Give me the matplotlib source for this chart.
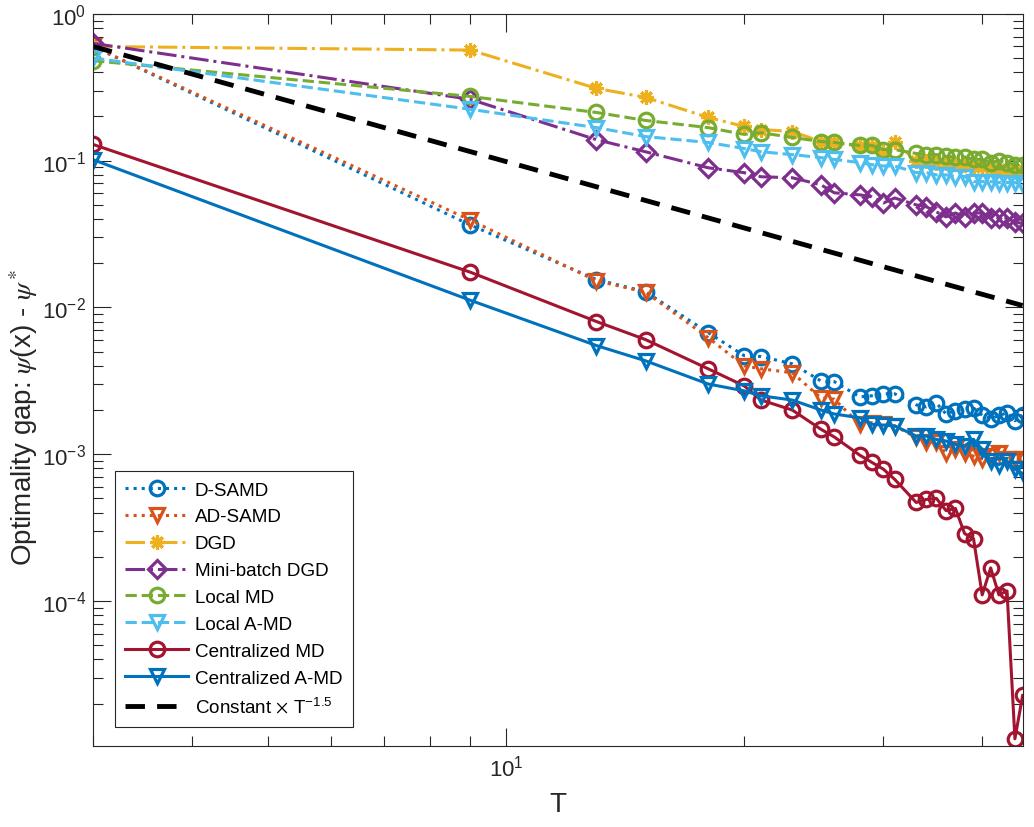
import matplotlib
matplotlib.use("Agg")
import matplotlib.pyplot as plt
from matplotlib.ticker import LogLocator, NullFormatter

plt.rcParams['font.family'] = ['Liberation Sans', 'DejaVu Sans']
plt.rcParams['mathtext.fontset'] = 'stix'

T = [3, 9, 13, 15, 18, 20, 21, 23, 25, 26, 28, 29, 30, 31, 33, 34, 35, 36,
     37, 38, 39, 40, 41, 42, 43, 44, 45]

d_samd = [0.60, 0.0365, 0.0155, 0.0128, 0.00674, 0.00469, 0.00463, 0.00413,
          0.00316, 0.00312, 0.00246, 0.0025, 0.00258, 0.00258, 0.00217, 0.0021,
          0.00223, 0.00188, 0.00198, 0.00203, 0.00207, 0.00184, 0.00174,
          0.00184, 0.00191, 0.00169, 0.00184]
ad_samd = [0.60, 0.0394, 0.0152, 0.0127, 0.00623, 0.0040, 0.00382, 0.00359,
           0.00242, 0.00237, 0.0016, 0.00164, 0.0016, 0.00156, 0.0013, 0.00121,
           0.00121, 0.00102, 0.00109, 0.00102, 0.00097, 0.00093, 0.00097,
           0.00102, 0.00093, 0.00093, 0.00093]
dgd = [0.60, 0.567, 0.311, 0.27, 0.197, 0.171, 0.163, 0.158, 0.135, 0.133,
       0.125, 0.125, 0.115, 0.133, 0.100, 0.099, 0.097, 0.096, 0.095, 0.093,
       0.092, 0.090, 0.089, 0.088, 0.087, 0.086, 0.085]
mb_dgd = [0.63, 0.262, 0.139, 0.115, 0.0895, 0.0828, 0.0777, 0.0765, 0.0685,
          0.0604, 0.0585, 0.0567, 0.0515, 0.0557, 0.050, 0.0485, 0.0448, 0.0414,
          0.044, 0.0414, 0.044, 0.044, 0.0408, 0.0408, 0.0408, 0.038, 0.0375]
local_md = [0.48, 0.274, 0.213, 0.188, 0.168, 0.151, 0.155, 0.144, 0.135, 0.133,
            0.127, 0.127, 0.119, 0.119, 0.112, 0.11, 0.11, 0.107, 0.106, 0.106,
            0.102, 0.102, 0.097, 0.10, 0.097, 0.094, 0.094]
local_amd = [0.50, 0.224, 0.168, 0.146, 0.133, 0.121, 0.115, 0.11, 0.105, 0.102,
             0.097, 0.094, 0.092, 0.092, 0.083, 0.083, 0.080, 0.080, 0.078,
             0.078, 0.072, 0.072, 0.072, 0.071, 0.071, 0.071, 0.068]
cent_md = [0.129, 0.0174, 0.00802, 0.00604, 0.00382, 0.00292, 0.00234, 0.0020,
           0.00148, 0.00131, 0.000985, 0.00088, 0.00079, 0.000674, 0.000469,
           0.000492, 0.0005, 0.000413, 0.000427, 0.000288, 0.000266, 0.00011,
           0.000168, 0.00011, 0.000117, 1.15e-5, 2.27e-5]
cent_amd = [0.1016, 0.0112, 0.0055, 0.00433, 0.00301, 0.0027, 0.0025, 0.00234,
            0.0020, 0.00188, 0.00177, 0.0016, 0.00158, 0.00156, 0.00133, 0.00133,
            0.00126, 0.00123, 0.00117, 0.00114, 0.00126, 0.00108, 0.000895,
            0.00085, 0.000895, 0.00079, 0.00074]
ref_T = [3, 45]
ref_y = [0.60, 0.0103]

series = [
    ("D-SAMD", d_samd, '#0072BD', ':', 'o'),
    ("AD-SAMD", ad_samd, '#D95319', ':', 'v'),
    ("DGD", dgd, '#EDB120', '-.', (8, 2, 0)),
    ("Mini-batch DGD", mb_dgd, '#7E2F8E', '-.', 'D'),
    ("Local MD", local_md, '#77AC30', '--', 'o'),
    ("Local A-MD", local_amd, '#4DBEEE', '--', 'v'),
    ("Centralized MD", cent_md, '#A2142F', '-', 'o'),
    ("Centralized A-MD", cent_amd, '#0072BD', '-', 'v'),
]

fig = plt.figure(figsize=(10.34, 8.28), dpi=100)
ax = fig.add_axes([0.090, 0.098, 0.899, 0.884])

for name, vals, col, ls, mk in series:
    ms = 9.5 if mk == 'D' else 10.5
    ax.plot(T, vals, color=col, linestyle=ls, linewidth=2.2, marker=mk,
            markersize=ms, markerfacecolor='none', markeredgewidth=2.3,
            label=name)
ax.plot(ref_T, ref_y, color='black', linestyle=(0, (4, 2.5)), linewidth=3.5,
        label=r'Constant $\times$ T$^{\mathdefault{-1.5}}$')

ax.set_xscale('log')
ax.set_yscale('log')
ax.set_xlim(3, 45)
ax.set_ylim(1.03e-5, 1)
ax.xaxis.set_minor_formatter(NullFormatter())
ax.yaxis.set_major_locator(LogLocator(base=10, numticks=10))
ax.yaxis.set_minor_locator(LogLocator(base=10, subs=range(2, 10), numticks=10))
ax.yaxis.set_minor_formatter(NullFormatter())

ax.tick_params(which='both', direction='in', top=True, right=True,
               colors='#262626', labelsize=16)
ax.tick_params(axis='y', which='major', pad=5)
ax.tick_params(axis='x', which='major', pad=6)
ax.tick_params(which='major', length=13, width=0.8)
ax.tick_params(which='minor', length=7, width=0.8)
for sp in ax.spines.values():
    sp.set_color('#262626')
    sp.set_linewidth(0.8)

ax.set_xlabel('T', fontsize=20, color='#262626', labelpad=8)
ax.set_ylabel(r'Optimality gap: $\psi$(x) - $\psi^*$', fontsize=20,
              color='#262626')
ax.yaxis.set_label_coords(-0.057, 0.45)

leg = ax.legend(loc='lower left', bbox_to_anchor=(0.0237, 0.026),
                borderaxespad=0, fontsize=13.6, handlelength=3.3,
                fancybox=False, framealpha=1, edgecolor='#262626',
                labelspacing=0.51, borderpad=0.55, handletextpad=0.37)
leg.get_frame().set_linewidth(0.8)

fig.savefig('out.png', dpi=100)
